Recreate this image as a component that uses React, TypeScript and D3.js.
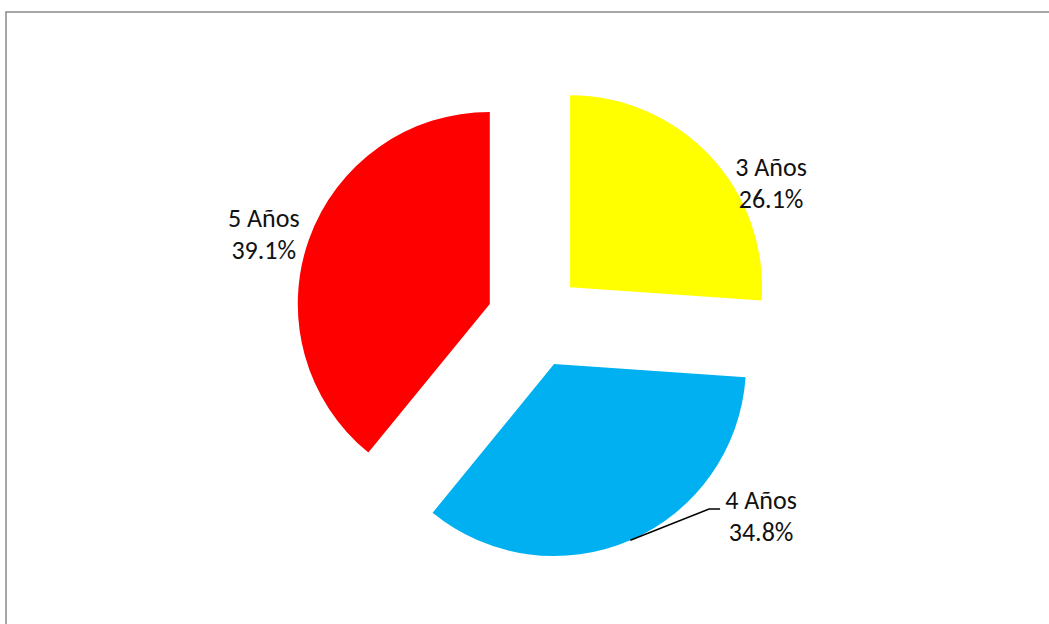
import { useEffect, useRef } from "react";
import * as d3 from "d3";

const CATEGORIES = ["3 Años", "4 Años", "5 Años"];
const PERCENTS = [26.1, 34.8, 39.1];
const COLORS = ["#FFFF00", "#00B0F0", "#FF0000"];

// label placement relative to each slice's (exploded) apex, plus leader flag
const LABEL_LAYOUT = [
  { dx: 201, dy: -111, leader: false },
  { dx: 207, dy: 145, leader: true },
  { dx: -226, dy: -77, leader: false },
];

export default function App() {
  const svgRef = useRef<SVGSVGElement | null>(null);

  useEffect(() => {
    const width = 1049;
    const height = 624;
    const cx = 535;
    const cy = 320;
    const radius = 192;
    const explode = 48;

    const svg = d3.select(svgRef.current);
    svg.selectAll("*").remove();
    svg.attr("width", width).attr("height", height);

    svg
      .append("rect")
      .attr("x", 6)
      .attr("y", 12)
      .attr("width", width + 20)
      .attr("height", height + 20)
      .attr("fill", "#fff")
      .attr("stroke", "#898989")
      .attr("stroke-width", 1.5);

    const data = CATEGORIES.map((c, i) => ({ name: c, value: PERCENTS[i], color: COLORS[i], i }));

    const pie = d3
      .pie<any>()
      .value((d) => d.value)
      .sort(null)
      .startAngle(0)
      .endAngle(2 * Math.PI);

    const arc = d3.arc<any>().innerRadius(0).outerRadius(radius);

    const arcs = pie(data);
    const g = svg.append("g").attr("transform", `translate(${cx},${cy})`);

    arcs.forEach((a) => {
      const mid = (a.startAngle + a.endAngle) / 2;
      const ox = Math.sin(mid) * explode;
      const oy = -Math.cos(mid) * explode;
      const sg = g.append("g").attr("transform", `translate(${ox},${oy})`);
      sg.append("path").attr("d", arc(a) as string).attr("fill", a.data.color);

      const lay = LABEL_LAYOUT[a.data.i];
      const text = sg
        .append("text")
        .attr("text-anchor", "middle")
        .attr("font-family", "Carlito, Calibri, 'Liberation Sans Narrow', 'Liberation Sans', sans-serif")
        .attr("font-size", "26px")
        .attr("fill", "#111");
      text.append("tspan").attr("x", lay.dx).attr("y", lay.dy).text(a.data.name);
      text
        .append("tspan")
        .attr("x", lay.dx)
        .attr("y", lay.dy + 32)
        .text(`${a.data.value.toFixed(1)}%`);

      if (lay.leader) {
        const px = Math.sin(mid) * radius;
        const py = -Math.cos(mid) * radius;
        const line = d3.line();
        sg.append("path")
          .attr(
            "d",
            line([
              [px, py],
              [lay.dx - 52, lay.dy],
              [lay.dx - 41, lay.dy],
            ]) as string,
          )
          .attr("fill", "none")
          .attr("stroke", "#000")
          .attr("stroke-width", 1.5);
      }
    });
  }, []);

  return (
    <svg
      ref={svgRef}
      style={{ position: "absolute", left: 0, top: 0, display: "block" }}
    />
  );
}
